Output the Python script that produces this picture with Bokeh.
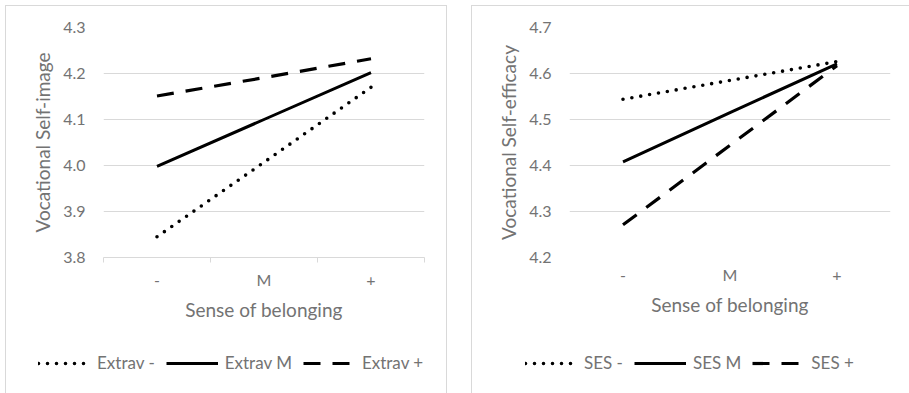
from bokeh.plotting import figure
from bokeh.models import Range1d, FixedTicker, Legend, LegendItem, Spacer
from bokeh.layouts import row, column
from bokeh.embed import file_html
from bokeh.resources import INLINE

categories = ["-", "M", "+"]
left_ticks = [3.8, 3.9, 4.0, 4.1, 4.2, 4.3]
right_ticks = [4.2, 4.3, 4.4, 4.5, 4.6, 4.7]

extrav_low = [3.845, 4.007, 4.170]
extrav_mid = [3.998, 4.100, 4.202]
extrav_high = [4.151, 4.191, 4.232]

ses_low = [4.544, 4.585, 4.626]
ses_mid = [4.408, 4.515, 4.621]
ses_high = [4.271, 4.444, 4.617]

left_labels = ["Extrav -", "Extrav M", "Extrav +"]
right_labels = ["SES -", "SES M", "SES +"]

FONT = "Lato"
TXT = "#737373"
GRID = "#d9d9d9"

STYLES = [
    dict(line_dash="0 9", line_cap="round", line_width=3.6),
    dict(line_dash="solid", line_cap="butt", line_width=3),
    dict(line_dash="17 12", line_cap="butt", line_width=3.2),
]


def build(ticks, series, labels, ylabel, width, border_left, border_right,
          show_xaxis_line, shadow, legend_x):
    centers = [i + 0.5 for i in range(len(categories))]
    bounds = list(range(len(categories) + 1))
    p = figure(width=width, height=333, output_backend="svg", toolbar_location=None,
               x_range=Range1d(0, len(categories)), y_range=Range1d(ticks[0], ticks[-1]),
               min_border_left=border_left, min_border_right=border_right,
               min_border_top=22, min_border_bottom=81)
    p.border_fill_color = None
    p.outline_line_color = None

    # y axis
    ya = p.yaxis[0]
    ya.ticker = FixedTicker(ticks=ticks)
    ya.major_label_overrides = {t: f"{t:.1f}" for t in ticks}
    ya.axis_line_color = None
    ya.major_tick_line_color = None
    ya.minor_tick_line_color = None
    ya.major_tick_out = 0
    ya.major_label_standoff = 18
    ya.major_label_text_font = FONT
    ya.major_label_text_font_size = "16px"
    ya.major_label_text_color = TXT
    ya.axis_label = ylabel
    ya.axis_label_text_font = FONT
    ya.axis_label_text_font_size = "19px"
    ya.axis_label_text_font_style = "normal"
    ya.axis_label_text_color = TXT
    ya.axis_label_standoff = 6

    # x axis
    xa = p.xaxis[0]
    xa.ticker = FixedTicker(ticks=centers, minor_ticks=bounds if show_xaxis_line else [])
    xa.major_label_overrides = {c: lab for c, lab in zip(centers, categories)}
    xa.major_tick_line_color = None
    xa.major_tick_out = 0
    xa.major_tick_in = 0
    xa.minor_tick_in = 0
    xa.minor_tick_out = 5 if show_xaxis_line else 0
    xa.minor_tick_line_color = GRID if show_xaxis_line else None
    xa.axis_line_color = GRID if show_xaxis_line else None
    xa.major_label_standoff = 7
    xa.major_label_text_font = FONT
    xa.major_label_text_font_size = "16px"
    xa.major_label_text_color = TXT
    xa.axis_label = "Sense of belonging"
    xa.axis_label_text_font = FONT
    xa.axis_label_text_font_size = "19px"
    xa.axis_label_text_font_style = "normal"
    xa.axis_label_text_color = TXT
    xa.axis_label_standoff = 6

    p.xgrid.grid_line_color = None
    p.ygrid.grid_line_color = GRID
    p.ygrid.ticker = FixedTicker(ticks=ticks)

    for ys, st in zip(series, STYLES):
        p.line(centers, ys, line_color="black", **st)

    # legend strip below the plot
    lf = figure(width=width, height=55, output_backend="svg", toolbar_location=None,
                x_range=Range1d(0, 1), y_range=Range1d(0, 1),
                x_axis_location=None, y_axis_location=None,
                min_border=0, min_border_left=0, min_border_right=0,
                min_border_top=0, min_border_bottom=0)
    lf.frame_align = False
    lf.border_fill_color = None
    lf.background_fill_color = None
    lf.outline_line_color = None
    lf.grid.grid_line_color = None
    items = []
    nan = float("nan")
    for lab, st in zip(labels, STYLES):
        r = lf.line([nan], [nan], line_color="black", **st)
        items.append(LegendItem(label=lab, renderers=[r]))
    leg = Legend(items=items, orientation="horizontal", location=(legend_x, 20),
                 border_line_color=None, background_fill_alpha=0,
                 glyph_width=52, glyph_height=20, label_standoff=7, spacing=11,
                 padding=0, margin=0, label_text_font=FONT,
                 label_text_font_size="17px", label_text_color=TXT)
    lf.add_layout(leg, "center")

    return column(p, lf, spacing=0, styles={"box-shadow": shadow})


c1 = build(left_ticks, [extrav_low, extrav_mid, extrav_high], left_labels,
           "Vocational Self-image", 442, 98, 23, True,
           "inset 1px 1px 0 #d9d9d9, inset -1px 0 0 #d9d9d9", 33)
c2 = build(right_ticks, [ses_low, ses_mid, ses_high], right_labels,
           "Vocational Self-efficacy", 438, 98, 19, False,
           "inset 1px 1px 0 #d9d9d9", 54)

layout = column(Spacer(height=5),
                row(Spacer(width=5), c1, Spacer(width=24), c2, spacing=0),
                spacing=0)

open("out.html", "w").write(file_html(layout, INLINE))
